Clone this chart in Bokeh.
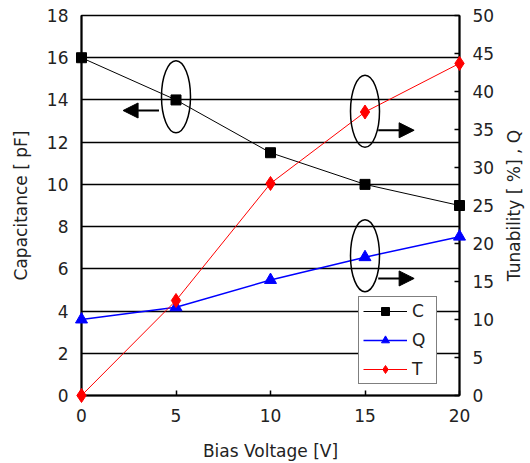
import math
from bokeh.plotting import figure
from bokeh.models import (Range1d, LinearAxis, FixedTicker, Arrow, NormalHead,
                          Legend, LegendItem)
from bokeh.core.properties import value
from bokeh.embed import file_html
from bokeh.resources import INLINE

# ---- data ----
bias_v = [0, 5, 10, 15, 20]
cap_pf = [16, 14, 11.5, 10, 9]          # C (left axis)
q_val = [10, 11.6, 15.2, 18.2, 20.9]    # Q (right axis)
tun_pct = [0, 12.5, 27.9, 37.3, 43.7]   # T (right axis)

left_ticks = [0, 2, 4, 6, 8, 10, 12, 14, 16, 18]
right_ticks = [0, 5, 10, 15, 20, 25, 30, 35, 40, 45, 50]
x_ticks = [0, 5, 10, 15, 20]

x_title = "Bias Voltage [V]"
left_title = "Capacitance [ pF]"
right_title = "Tunability [ %] , Q"

# annotation anchors (data units)
ell_x = [5, 15]
ell_y_left = [14.15]
ell_y_right = [37.4, 18.4]
arrow_left = (4.1, 2.2, 13.5)           # x_start, x_end, y (left axis)
arrows_right = [(15.7, 17.6, 34.9), (15.7, 17.6, 15.4)]  # right axis
right_title_pos = (22.9, 9.0)           # beyond the right axis, mid-height

FONT = "DejaVu Sans"
TXT = "#222222"

p = figure(width=530, height=463, output_backend="svg", toolbar_location=None,
           x_range=Range1d(0, 20), y_range=Range1d(0, 18),
           min_border_left=81, min_border_right=71, min_border_top=15,
           min_border_bottom=68, background_fill_color="white",
           border_fill_color="white")
p.extra_y_ranges = {"right": Range1d(0, 50)}

p.outline_line_color = "black"
p.outline_line_width = 1.5
p.xgrid.visible = False
p.ygrid.ticker = FixedTicker(ticks=left_ticks)
p.ygrid.grid_line_color = "black"
p.ygrid.grid_line_width = 1.5

# bottom axis
xa = p.xaxis[0]
xa.ticker = FixedTicker(ticks=x_ticks)
xa.axis_label = x_title
# left axis
ya = p.yaxis[0]
ya.ticker = FixedTicker(ticks=left_ticks)
ya.axis_label = left_title
# right axis (title drawn as rotated text, reading bottom-to-top)
ra = LinearAxis(y_range_name="right", ticker=FixedTicker(ticks=right_ticks))
p.add_layout(ra, "right")

for ax in (xa, ya, ra):
    ax.axis_line_color = "black"
    ax.axis_line_width = 2
    ax.major_tick_line_color = "black"
    ax.major_tick_line_width = 1.5
    ax.major_tick_out = 0
    ax.major_tick_in = 5
    ax.minor_tick_line_color = None
    ax.major_label_text_font = FONT
    ax.major_label_text_font_size = "17px"
    ax.major_label_text_color = TXT
    ax.axis_label_text_font = FONT
    ax.axis_label_text_font_size = "17px"
    ax.axis_label_text_font_style = "normal"
    ax.axis_label_text_color = TXT
    ax.major_label_standoff = 13
    ax.axis_label_standoff = 13
ya.major_tick_in = 0
xa.axis_label_standoff = 16

p.text(x=[right_title_pos[0]], y=[right_title_pos[1]], text=[right_title],
       angle=math.pi / 2, text_align="center", text_baseline="middle",
       text_font=value(FONT), text_font_size="17px", text_color=TXT,
       level="overlay")

# series
c_line = p.line(bias_v, cap_pf, line_color="black", line_width=1)
c_pts = p.scatter(bias_v, cap_pf, marker="square", size=10, color="black", level="overlay")
q_line = p.line(bias_v, q_val, line_color="#0000FF", line_width=1.5, y_range_name="right")
q_pts = p.scatter(bias_v, q_val, marker="triangle", size=12, color="#0000FF",
                  y_range_name="right", level="overlay")
t_line = p.line(bias_v, tun_pct, line_color="#FF0000", line_width=1, y_range_name="right")
t_pts = p.scatter(bias_v, tun_pct, marker="diamond", size=14, color="#FF0000",
                  y_range_name="right", level="overlay")

# ellipses
p.ellipse(x=[ell_x[0]], y=ell_y_left, width=29, height=72, width_units="screen",
          height_units="screen", fill_alpha=0, line_color="black", line_width=1.5)
p.ellipse(x=[ell_x[1], ell_x[1]], y=ell_y_right, width=29, height=72, width_units="screen",
          height_units="screen", fill_alpha=0, line_color="black", line_width=1.5,
          y_range_name="right")

# arrows
p.add_layout(Arrow(end=NormalHead(size=15, fill_color="black", line_color="black"),
                   x_start=arrow_left[0], x_end=arrow_left[1],
                   y_start=arrow_left[2], y_end=arrow_left[2],
                   line_color="black", line_width=2))
for xs, xe, yy in arrows_right:
    p.add_layout(Arrow(end=NormalHead(size=15, fill_color="black", line_color="black"),
                       x_start=xs, x_end=xe, y_start=yy, y_end=yy,
                       line_color="black", line_width=2, y_range_name="right"))

legend = Legend(items=[LegendItem(label="C", renderers=[c_line, c_pts]),
                       LegendItem(label="Q", renderers=[q_line, q_pts]),
                       LegendItem(label="T", renderers=[t_line, t_pts])],
                location=(277, 11), orientation="vertical")
legend.border_line_color = "black"
legend.border_line_width = 1.5
legend.background_fill_color = "white"
legend.background_fill_alpha = 1
legend.label_text_font = FONT
legend.label_text_font_size = "17px"
legend.label_text_color = TXT
legend.glyph_width = 44
legend.glyph_height = 20
legend.label_height = 20
legend.label_width = 20
legend.spacing = 9
legend.padding = 4
legend.margin = 0
legend.label_standoff = 5
p.add_layout(legend, "center")

open("out.html", "w").write(file_html(p, INLINE))
